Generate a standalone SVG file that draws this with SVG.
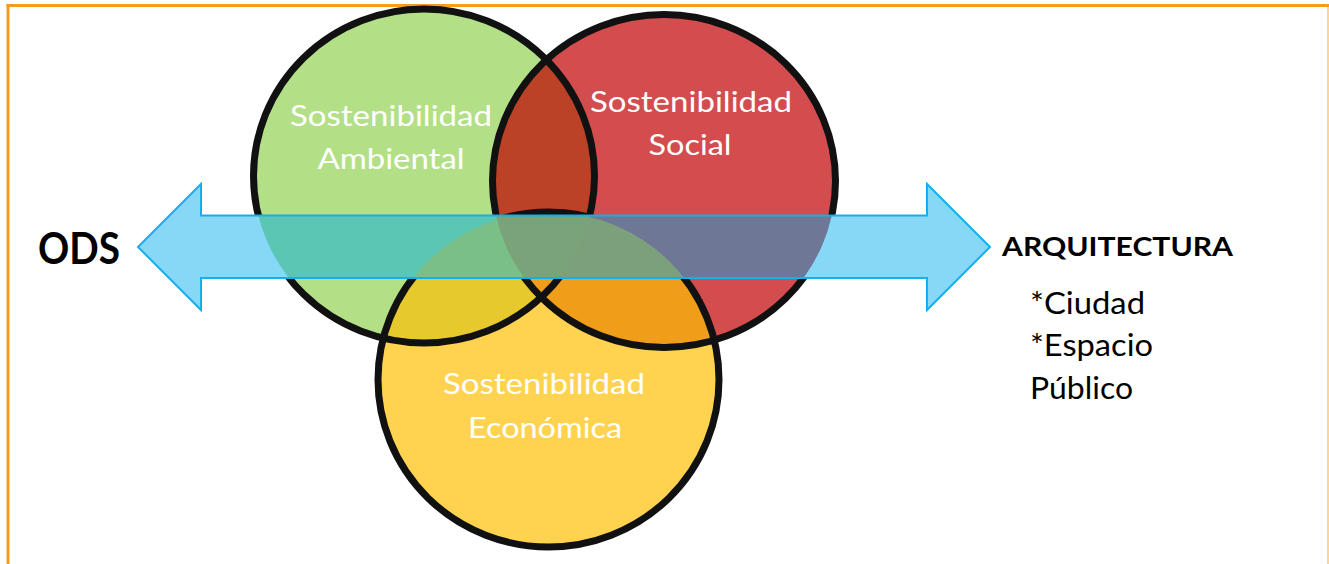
<svg xmlns="http://www.w3.org/2000/svg" width="1329" height="564" viewBox="0 0 1329 564">
  <style>
    .lbl { font-family: Lato, "Liberation Sans", Arial, sans-serif; font-size: 29px; fill: #FFFFFF; text-anchor: middle; }
    .blk { font-family: Lato, "Liberation Sans", Arial, sans-serif; fill: #000000; }
    .ring { fill: none; stroke: #111111; stroke-width: 7; }
  </style>
  <defs>
    <clipPath id="clipG"><ellipse cx="424" cy="176" rx="170.5" ry="167"/></clipPath>
    <clipPath id="clipR"><ellipse cx="664" cy="181" rx="171.5" ry="166.5"/></clipPath>
    <clipPath id="clipY"><ellipse cx="548.5" cy="379.5" rx="170.5" ry="167.5"/></clipPath>
    <clipPath id="clipBand"><rect x="201" y="216" width="727" height="62"/></clipPath>
  </defs>

  <rect width="1329" height="564" fill="#FFFFFF"/>
  <g id="frame">
    <line x1="6.5" y1="5.5" x2="1329" y2="5.5" stroke="#F39C1F" stroke-width="3"/>
    <line x1="8" y1="4" x2="8" y2="564" stroke="#F39C1F" stroke-width="3"/>
    <line x1="1328" y1="7" x2="1328" y2="564" stroke="#FCD49A" stroke-width="2"/>
  </g>

  <g id="fills">
    <ellipse cx="424" cy="176" rx="170.5" ry="167" fill="#B3DF87"/>
    <ellipse cx="664" cy="181" rx="171.5" ry="166.5" fill="#D44D4E"/>
    <ellipse cx="548.5" cy="379.5" rx="170.5" ry="167.5" fill="#FFD34F"/>
    <ellipse cx="664" cy="181" rx="171.5" ry="166.5" fill="#BC4227" clip-path="url(#clipG)"/>
    <ellipse cx="548.5" cy="379.5" rx="170.5" ry="167.5" fill="#E6C92C" clip-path="url(#clipG)"/>
    <ellipse cx="548.5" cy="379.5" rx="170.5" ry="167.5" fill="#F09E1A" clip-path="url(#clipR)"/>
  </g>

  <g id="circle-ambiental">
    <ellipse class="ring" cx="424" cy="176" rx="170.5" ry="167"/>
    <text class="lbl" x="391" y="126" textLength="202" lengthAdjust="spacingAndGlyphs">Sostenibilidad</text>
    <text class="lbl" x="391" y="169" textLength="147" lengthAdjust="spacingAndGlyphs">Ambiental</text>
  </g>
  <g id="circle-social">
    <ellipse class="ring" cx="664" cy="181" rx="171.5" ry="166.5"/>
    <text class="lbl" x="691" y="112" textLength="202" lengthAdjust="spacingAndGlyphs">Sostenibilidad</text>
    <text class="lbl" x="690" y="155" textLength="83" lengthAdjust="spacingAndGlyphs">Social</text>
  </g>
  <g id="circle-economica">
    <ellipse class="ring" cx="548.5" cy="379.5" rx="170.5" ry="167.5"/>
    <text class="lbl" x="544" y="394" textLength="202" lengthAdjust="spacingAndGlyphs">Sostenibilidad</text>
    <text class="lbl" x="545" y="438" textLength="154" lengthAdjust="spacingAndGlyphs">Económica</text>
  </g>

  <g id="connectors">
    <polygon points="138,247 201,184 201,215.5 927,215.5 927,184 990,247 927,310 927,278 201,278 201,310" fill="#87D7F7"/>
    <g clip-path="url(#clipBand)">
      <ellipse cx="424" cy="176" rx="170.5" ry="167" fill="#5BC6B4"/>
      <ellipse cx="664" cy="181" rx="171.5" ry="166.5" fill="#6E7896"/>
      <ellipse cx="664" cy="181" rx="171.5" ry="166.5" fill="#7BA379" clip-path="url(#clipG)"/>
      <ellipse cx="548.5" cy="379.5" rx="170.5" ry="167.5" fill="#7BBF88" clip-path="url(#clipG)"/>
      <ellipse cx="548.5" cy="379.5" rx="170.5" ry="167.5" fill="#7CA07C" clip-path="url(#clipR)"/>
      <g clip-path="url(#clipG)">
        <ellipse cx="548.5" cy="379.5" rx="170.5" ry="167.5" fill="#7BA379" clip-path="url(#clipR)"/>
      </g>
    </g>
    <polygon points="138,247 201,184 201,215.5 927,215.5 927,184 990,247 927,310 927,278 201,278 201,310" fill="none" stroke="#12B0EC" stroke-width="2"/>
  </g>

  <g id="ods">
    <text class="blk" x="38" y="264" font-size="44" font-weight="bold" textLength="82" lengthAdjust="spacingAndGlyphs">ODS</text>
  </g>
  <g id="arquitectura">
    <text class="blk" x="1002" y="256" font-size="27" font-weight="bold" textLength="231" lengthAdjust="spacingAndGlyphs">ARQUITECTURA</text>
    <text class="blk" x="1030" y="314" font-size="30" textLength="115" lengthAdjust="spacingAndGlyphs">*Ciudad</text>
    <text class="blk" x="1030" y="356" font-size="30" textLength="123" lengthAdjust="spacingAndGlyphs">*Espacio</text>
    <text class="blk" x="1030" y="399" font-size="30" textLength="103" lengthAdjust="spacingAndGlyphs">Público</text>
  </g>
</svg>
